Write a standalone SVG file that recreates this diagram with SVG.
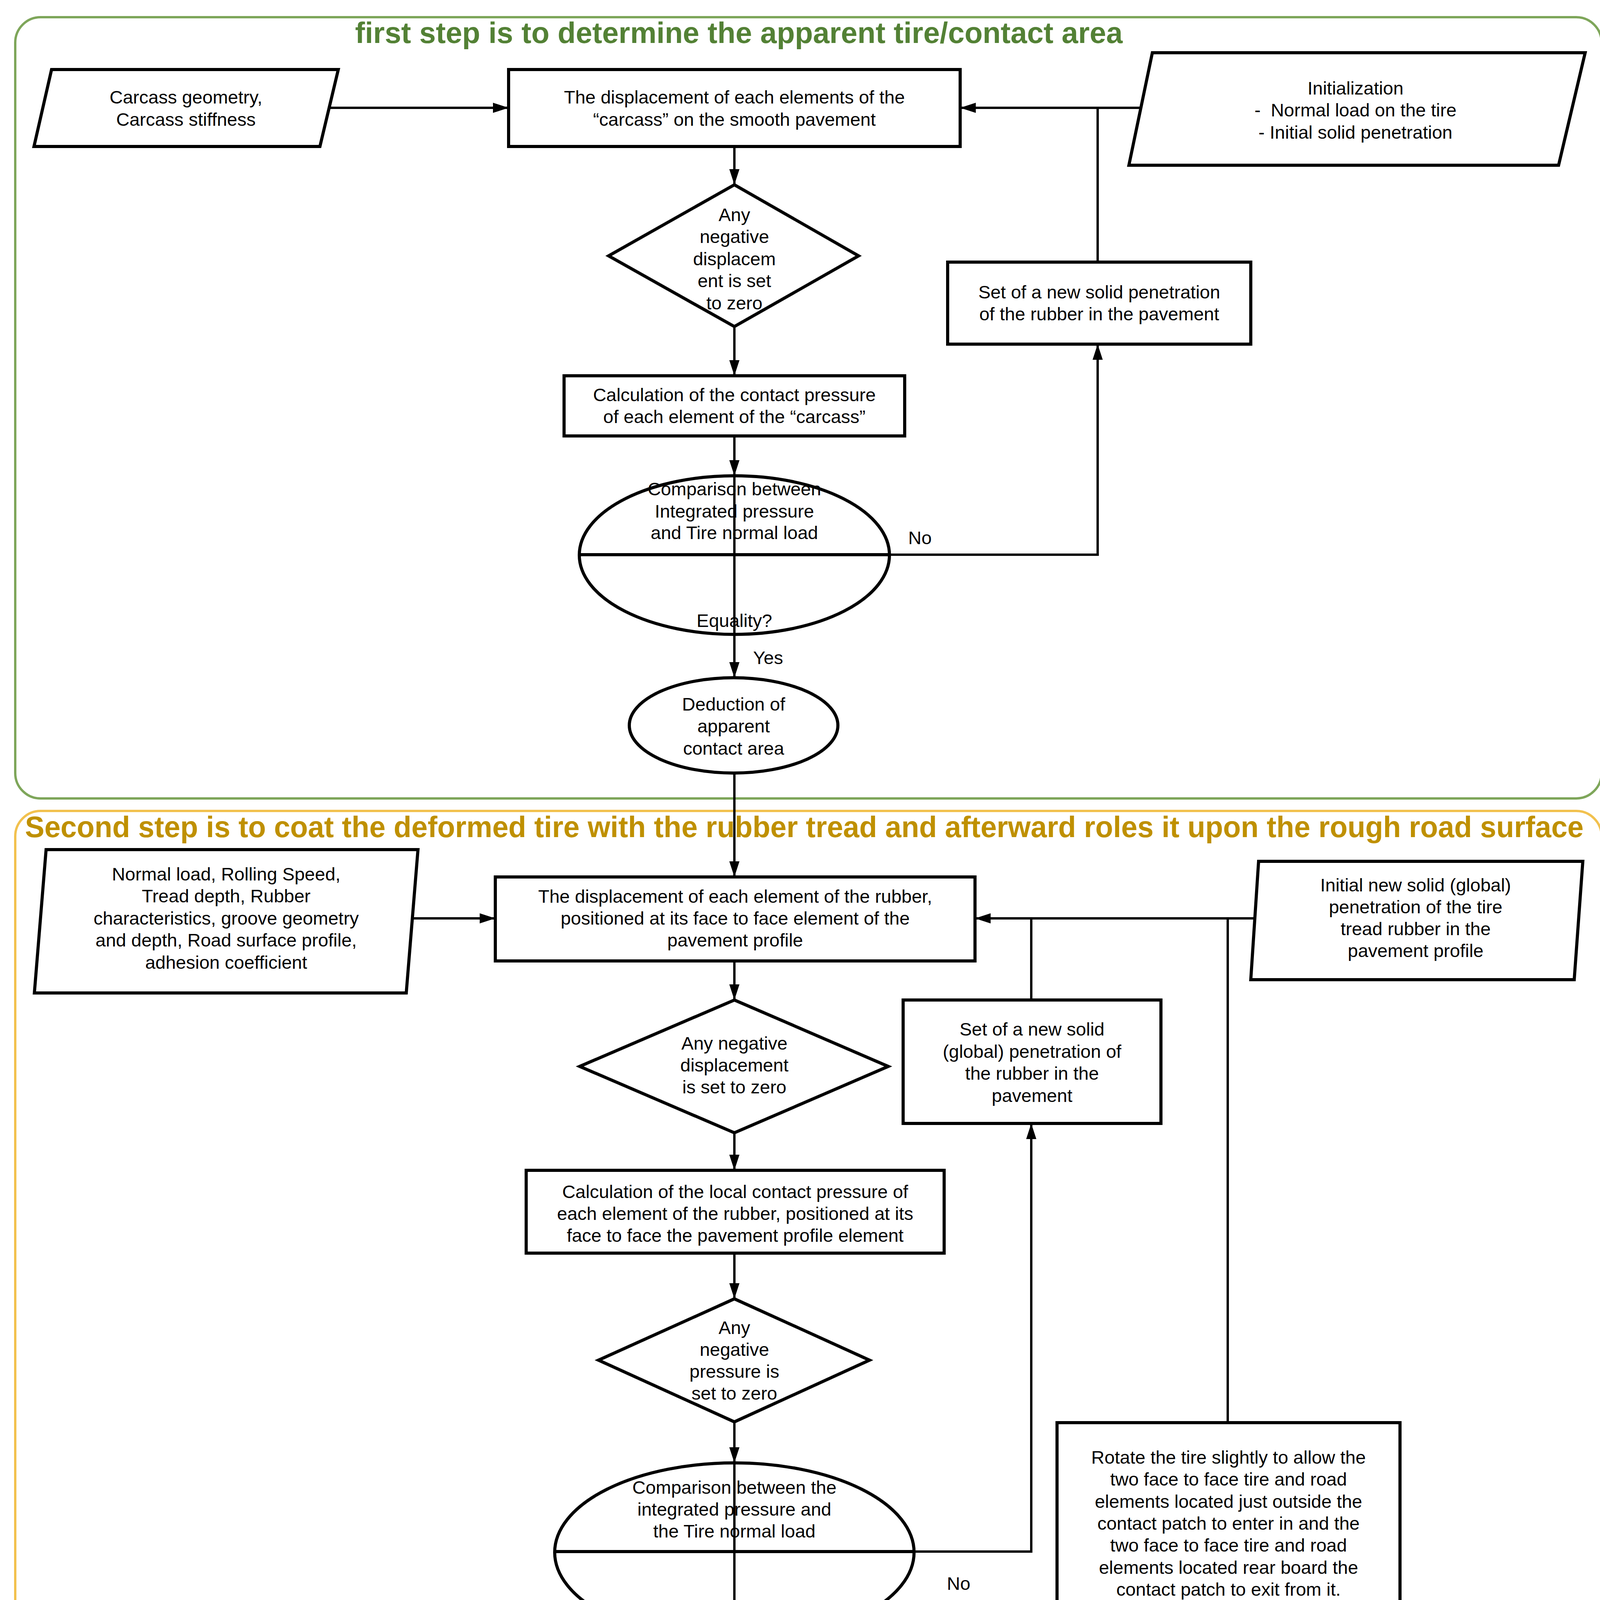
<svg xmlns="http://www.w3.org/2000/svg" width="4141" height="5052" viewBox="0 0 4141 5052">
<style>
.bg{fill:#ffffff}
.node{fill:#ffffff;stroke:#000000;stroke-width:8}
.div{stroke:#000000;stroke-width:8;fill:none}
.t{font-family:"Liberation Sans",Arial,sans-serif;font-size:47px;fill:#000000;text-anchor:middle}
.lbl{font-family:"Liberation Sans",Arial,sans-serif;font-size:47px;fill:#000000}
.title{font-family:"Liberation Sans",Arial,sans-serif;font-size:76px;font-weight:bold}
.conn{fill:none;stroke:#000000;stroke-width:6}
.arr{marker-end:url(#ah)}
</style>
<defs>
<marker id="ah" markerUnits="userSpaceOnUse" markerWidth="40" markerHeight="26" refX="40" refY="13" orient="auto">
<path d="M0,0 L40,13 L0,26 z" fill="#000000"/>
</marker>
</defs>
<rect class="bg" x="0" y="0" width="4141" height="5052"/>

<g id="stage1">
<rect x="39" y="44" width="4061" height="2000" rx="65" ry="65" fill="none" stroke="#7ea65a" stroke-width="6"/>
<text class="title" x="909" y="110" fill="#538135" textLength="1965" lengthAdjust="spacingAndGlyphs">first step is to determine the apparent tire/contact area</text>
</g>
<g id="stage2">
<rect x="39" y="2076" width="4061" height="2944" rx="65" ry="65" fill="none" stroke="#f2c14e" stroke-width="6"/>
<text class="title" x="64" y="2143" fill="#bf9000" textLength="3990" lengthAdjust="spacingAndGlyphs">Second step is to coat the deformed tire with the rubber tread and afterward roles it upon the rough road surface</text>
</g>

<g id="n_carcass">
<polygon class="node" points="132,178 866,178 819,375 87,375"/>
<text class="t"><tspan x="476" y="265">Carcass geometry,</tspan><tspan x="476" y="322">Carcass stiffness</tspan></text>
</g>
<g id="n_disp1">
<rect class="node" x="1302" y="178" width="1156" height="197"/>
<text class="t"><tspan x="1880" y="265">The displacement of each elements of the</tspan><tspan x="1880" y="322">“carcass” on the smooth pavement</tspan></text>
</g>
<g id="n_init">
<polygon class="node" points="2950,135 4058,135 3990,423 2890,423"/>
<text class="t" xml:space="preserve"><tspan x="3470" y="242">Initialization</tspan><tspan x="3470" y="298">-  Normal load on the tire</tspan><tspan x="3470" y="355">- Initial solid penetration</tspan></text>
</g>
<g id="n_neg1">
<polygon class="node" points="1880,473 2198,655 1880,836 1558,655"/>
<text class="t"><tspan x="1880" y="566">Any</tspan><tspan x="1880" y="622">negative</tspan><tspan x="1880" y="679">displacem</tspan><tspan x="1880" y="735">ent is set</tspan><tspan x="1880" y="792">to zero</tspan></text>
</g>
<g id="n_set1">
<rect class="node" x="2426" y="671" width="776" height="210"/>
<text class="t"><tspan x="2814" y="764">Set of a new solid penetration</tspan><tspan x="2814" y="820">of the rubber in the pavement</tspan></text>
</g>
<g id="n_calc1">
<rect class="node" x="1444" y="962" width="872" height="154"/>
<text class="t"><tspan x="1880" y="1027">Calculation of the contact pressure</tspan><tspan x="1880" y="1083">of each element of the “carcass”</tspan></text>
</g>
<g id="n_cmp1">
<ellipse class="node" cx="1880" cy="1421" rx="397" ry="203"/>
<line class="div" x1="1483" y1="1420" x2="2277" y2="1420"/>
<text class="t"><tspan x="1880" y="1268">Comparison between</tspan><tspan x="1880" y="1325">Integrated pressure</tspan><tspan x="1880" y="1380">and Tire normal load</tspan><tspan x="1880" y="1605">Equality?</tspan></text>
</g>
<g id="n_deduct">
<ellipse class="node" cx="1878" cy="1857" rx="267" ry="122"/>
<text class="t"><tspan x="1878" y="1819">Deduction of</tspan><tspan x="1878" y="1875">apparent</tspan><tspan x="1878" y="1932">contact area</tspan></text>
</g>

<g id="n_input2">
<polygon class="node" points="118,2175 1070,2175 1040,2542 88,2542"/>
<text class="t"><tspan x="579" y="2254">Normal load, Rolling Speed,</tspan><tspan x="579" y="2310">Tread depth, Rubber</tspan><tspan x="579" y="2367">characteristics, groove geometry</tspan><tspan x="579" y="2423">and depth, Road surface profile,</tspan><tspan x="579" y="2480">adhesion coefficient</tspan></text>
</g>
<g id="n_disp2">
<rect class="node" x="1268" y="2245" width="1228" height="215"/>
<text class="t"><tspan x="1882" y="2311">The displacement of each element of the rubber,</tspan><tspan x="1882" y="2367">positioned at its face to face element of the</tspan><tspan x="1882" y="2423">pavement profile</tspan></text>
</g>
<g id="n_init2">
<polygon class="node" points="3222,2205 4052,2205 4030,2508 3202,2508"/>
<text class="t"><tspan x="3624" y="2282">Initial new solid (global)</tspan><tspan x="3624" y="2338">penetration of the tire</tspan><tspan x="3624" y="2394">tread rubber in the</tspan><tspan x="3624" y="2450">pavement profile</tspan></text>
</g>
<g id="n_neg2">
<polygon class="node" points="1880,2560 2274,2730 1880,2900 1484,2730"/>
<text class="t"><tspan x="1880" y="2687">Any negative</tspan><tspan x="1880" y="2743">displacement</tspan><tspan x="1880" y="2799">is set to zero</tspan></text>
</g>
<g id="n_set2">
<rect class="node" x="2312" y="2560" width="660" height="316"/>
<text class="t"><tspan x="2642" y="2651">Set of a new solid</tspan><tspan x="2642" y="2708">(global) penetration of</tspan><tspan x="2642" y="2764">the rubber in the</tspan><tspan x="2642" y="2821">pavement</tspan></text>
</g>
<g id="n_calc2">
<rect class="node" x="1347" y="2996" width="1070" height="212"/>
<text class="t"><tspan x="1882" y="3067">Calculation of the local contact pressure of</tspan><tspan x="1882" y="3123">each element of the rubber, positioned at its</tspan><tspan x="1882" y="3179">face to face the pavement profile element</tspan></text>
</g>
<g id="n_neg3">
<polygon class="node" points="1880,3325 2226,3482 1880,3640 1532,3482"/>
<text class="t"><tspan x="1880" y="3415">Any</tspan><tspan x="1880" y="3471">negative</tspan><tspan x="1880" y="3527">pressure is</tspan><tspan x="1880" y="3583">set to zero</tspan></text>
</g>
<g id="n_cmp2">
<ellipse class="node" cx="1880" cy="3974" rx="460" ry="229"/>
<line class="div" x1="1420" y1="3972" x2="2340" y2="3972"/>
<text class="t"><tspan x="1880" y="3824">Comparison between the</tspan><tspan x="1880" y="3880">integrated pressure and</tspan><tspan x="1880" y="3936">the Tire normal load</tspan><tspan x="1880" y="4163">Equality?</tspan></text>
</g>
<g id="n_rotate">
<rect class="node" x="2706" y="3642" width="878" height="517"/>
<text class="t"><tspan x="3145" y="3747">Rotate the tire slightly to allow the</tspan><tspan x="3145" y="3803">two face to face tire and road</tspan><tspan x="3145" y="3860">elements located just outside the</tspan><tspan x="3145" y="3916">contact patch to enter in and the</tspan><tspan x="3145" y="3972">two face to face tire and road</tspan><tspan x="3145" y="4029">elements located rear board the</tspan><tspan x="3145" y="4085">contact patch to exit from it.</tspan></text>
</g>
<g id="n_crr">
<rect class="node" x="1302" y="4295" width="1155" height="240"/>
<text class="t"><tspan x="1880" y="4403">Calculation of the Instantaneous Crr by dividing</tspan><tspan x="1880" y="4459">the RR Force by the Tire normal load</tspan></text>
</g>
<g id="n_avg">
<ellipse class="node" cx="1879" cy="4802" rx="340" ry="165"/>
<text class="t"><tspan x="1879" y="4790">Calculation of the</tspan><tspan x="1879" y="4846">averaged Crr</tspan></text>
</g>

<g id="connectors">
<path class="conn arr" d="M843,276 L1302,276"/>
<path class="conn arr" d="M2921,276 L2458,276"/>
<path class="conn" d="M2810,671 L2810,276"/>
<path class="conn arr" d="M1880,375 L1880,473"/>
<path class="conn arr" d="M1880,836 L1880,962"/>
<path class="conn arr" d="M1880,1116 L1880,1218"/>
<path class="conn arr" d="M1880,1218 L1880,1735"/>
<path class="conn arr" d="M2277,1420 L2810,1420 L2810,881"/>
<path class="conn arr" d="M1880,1979 L1880,2245"/>

<path class="conn arr" d="M1056,2351 L1268,2351"/>
<path class="conn arr" d="M3212,2351 L2496,2351"/>
<path class="conn" d="M2640,2560 L2640,2351"/>
<path class="conn" d="M3143,3642 L3143,2351"/>
<path class="conn arr" d="M1880,2460 L1880,2560"/>
<path class="conn arr" d="M1880,2900 L1880,2996"/>
<path class="conn arr" d="M1880,3208 L1880,3325"/>
<path class="conn arr" d="M1880,3640 L1880,3745"/>
<path class="conn arr" d="M1880,3745 L1880,4295"/>
<path class="conn arr" d="M2340,3972 L2640,3972 L2640,2876"/>
<path class="conn arr" d="M2457,4415 L3143,4415 L3143,4159"/>
<path class="conn arr" d="M1880,4535 L1880,4637"/>

<text class="lbl" x="2325" y="1393">No</text>
<text class="lbl" x="1928" y="1700">Yes</text>
<text class="lbl" x="2424" y="4070">No</text>
<text class="lbl" x="1936" y="4258">Yes</text>
</g>
</svg>
